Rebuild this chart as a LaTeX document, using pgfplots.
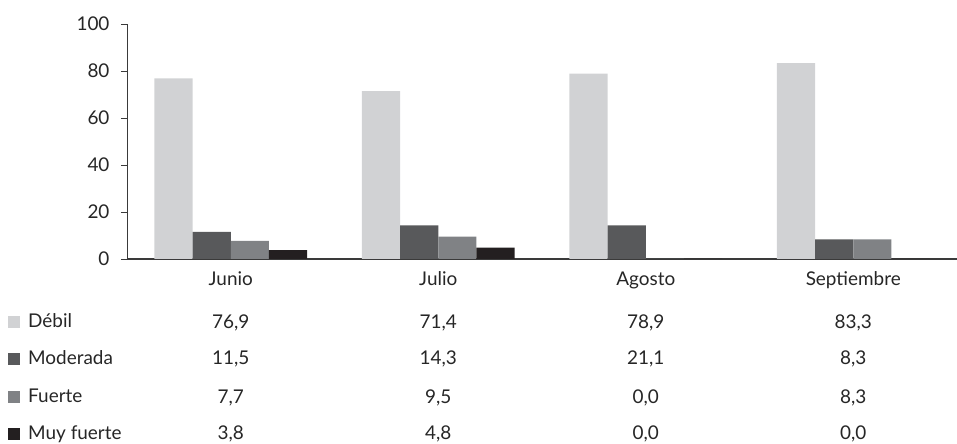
\documentclass[border=0pt]{standalone}
\usepackage{pgfplots}
\pgfplotsset{compat=1.18}
\usepackage{fontspec}
\setmainfont{Lato}
\definecolor{cDebil}{HTML}{D1D2D4}
\definecolor{cMod}{HTML}{58595B}
\definecolor{cFue}{HTML}{808285}
\definecolor{cMuy}{HTML}{231F20}
\definecolor{axcol}{HTML}{3A3A3A}
\begin{document}
\begin{tikzpicture}[x=1bp,y=1bp]
\begin{axis}[
  scale only axis,
  width=830bp, height=235bp,
  xmin=-0.5, xmax=3.5,
  ymin=0, ymax=100,
  ytick={0,20,40,60,80,100},
  xtick=\empty,
  axis x line*=bottom, axis y line*=left,
  axis line style={-, axcol, line width=1pt},
  x axis line style={line width=1.4pt},
  tick align=outside,
  major tick length=6bp,
  tick style={axcol, line width=0.8pt},
  /pgf/number format/assume math mode=true,
  yticklabel style={font=\fontsize{19}{22}\selectfont, text=black!85, xshift=-8bp},
  ybar=0pt,
  bar width=0.184,
  clip=false,
  every axis plot/.append style={draw=none},
]
\addplot[fill=cDebil] coordinates {(0,76.9) (1,71.4) (2,78.9) (3,83.3)};
\addplot[fill=cMod]   coordinates {(0,11.5) (1,14.3) (2,14.3) (3,8.3)};
\addplot[fill=cFue]   coordinates {(0,7.7) (1,9.5) (2,0) (3,8.3)};
\addplot[fill=cMuy]   coordinates {(0,3.8) (1,4.8) (2,0) (3,0)};
\coordinate (O) at (rel axis cs:0,0);
% table text
\tikzset{tt/.style={anchor=base, font=\fontsize{19}{22}\selectfont, text=black!85, inner sep=0pt}}
\node[tt] at (axis cs:0,-11.1) {Junio};
\node[tt] at (axis cs:1,-11.1) {Julio};
\node[tt] at (axis cs:2,-11.1) {Agosto};
\node[tt] at (axis cs:3,-11.1) {Septiembre};
\node[tt] at (axis cs:0,-29.4) {76,9};
\node[tt] at (axis cs:1,-29.4) {71,4};
\node[tt] at (axis cs:2,-29.4) {78,9};
\node[tt] at (axis cs:3,-29.4) {83,3};
\node[tt] at (axis cs:0,-45.1) {11,5};
\node[tt] at (axis cs:1,-45.1) {14,3};
\node[tt] at (axis cs:2,-45.1) {21,1};
\node[tt] at (axis cs:3,-45.1) {8,3};
\node[tt] at (axis cs:0,-61.3) {7,7};
\node[tt] at (axis cs:1,-61.3) {9,5};
\node[tt] at (axis cs:2,-61.3) {0,0};
\node[tt] at (axis cs:3,-61.3) {8,3};
\node[tt] at (axis cs:0,-77.0) {3,8};
\node[tt] at (axis cs:1,-77.0) {4,8};
\node[tt] at (axis cs:2,-77.0) {0,0};
\node[tt] at (axis cs:3,-77.0) {0,0};
\end{axis}
\begin{scope}[shift={(O)}]
\tikzset{lt/.style={anchor=base west, font=\fontsize{19}{22}\selectfont, text=black!85, inner sep=0pt}}
\fill[cDebil] (-119,-69) rectangle ++(12,12);
\node[lt] at (-99,-69) {Débil};
\fill[cMod] (-119,-106) rectangle ++(12,12);
\node[lt] at (-99,-106) {Moderada};
\fill[cFue] (-119,-144) rectangle ++(12,12);
\node[lt] at (-99,-144) {Fuerte};
\fill[cMuy] (-119,-181) rectangle ++(12,12);
\node[lt] at (-99,-181) {Muy fuerte};
\end{scope}
\pgfresetboundingbox
\path (O) ++(-127,-185) rectangle ++(957,444);
\end{tikzpicture}
\end{document}
